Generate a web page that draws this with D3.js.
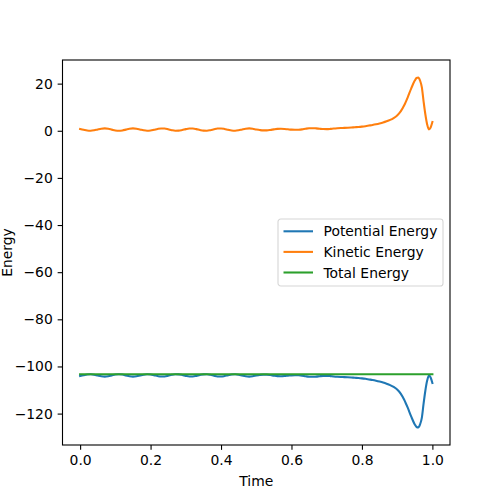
<!DOCTYPE html>
<html>
<head>
<meta charset="utf-8">
<script src="https://cdn.jsdelivr.net/npm/d3@7"></script>
<style>
  body { margin: 0; background: #fff; }
  svg { display: block; font-family: "DejaVu Sans", sans-serif; }
</style>
</head>
<body>
<div id="chart"></div>
<script>
// data
var time = [
  0.00,0.01,0.02,0.03,0.04,0.05,0.06,0.07,0.08,0.09,
  0.10,0.11,0.12,0.13,0.14,0.15,0.16,0.17,0.18,0.19,
  0.20,0.21,0.22,0.23,0.24,0.25,0.26,0.27,0.28,0.29,
  0.30,0.31,0.32,0.33,0.34,0.35,0.36,0.37,0.38,0.39,
  0.40,0.41,0.42,0.43,0.44,0.45,0.46,0.47,0.48,0.49,
  0.50,0.51,0.52,0.53,0.54,0.55,0.56,0.57,0.58,0.59,
  0.60,0.61,0.62,0.63,0.64,0.65,0.66,0.67,0.68,0.69,
  0.70,0.71,0.72,0.73,0.74,0.75,0.76,0.77,0.78,0.79,
  0.80,0.81,0.82,0.83,0.84,0.85,0.86,0.87,0.88,0.89,
  0.90,0.91,0.92,0.93,0.94,0.95,
  0.955,0.96,0.965,0.97,0.975,0.98,0.985,0.99,0.995,1.00
];

var kinetic = [
  0.77,0.41,0.09,0.01,0.20,0.56,0.88,1.00,0.83,0.48,
  0.14,0.00,0.15,0.48,0.83,1.00,0.89,0.56,0.20,0.01,
  0.09,0.41,0.77,0.99,0.93,0.63,0.26,0.02,0.05,0.33,
  0.70,0.96,0.96,0.70,0.33,0.05,0.02,0.26,0.63,0.93,
  0.99,0.77,0.41,0.09,0.01,0.20,0.56,0.88,1.00,0.85,
  0.55,0.30,0.16,0.18,0.35,0.60,0.80,0.85,0.78,0.62,
  0.47,0.40,0.45,0.60,0.85,1.05,1.10,1.00,0.85,0.72,
  0.70,0.80,0.98,1.10,1.18,1.22,1.30,1.40,1.50,1.60,
  1.75,1.95,2.20,2.45,2.75,3.10,3.50,4.00,4.60,5.40,
  6.50,8.20,10.8,14.2,18.0,21.3,
  22.4,22.6,21.3,18.5,12.5,7.0,2.8,0.6,1.4,3.7
];

var potential = [
  -104.07,-103.71,-103.39,-103.31,-103.50,-103.86,-104.18,-104.30,-104.13,-103.78,
  -103.44,-103.30,-103.45,-103.78,-104.13,-104.30,-104.19,-103.86,-103.50,-103.31,
  -103.39,-103.71,-104.07,-104.29,-104.23,-103.93,-103.56,-103.32,-103.35,-103.63,
  -104.00,-104.26,-104.26,-104.00,-103.63,-103.35,-103.32,-103.56,-103.93,-104.23,
  -104.29,-104.07,-103.71,-103.39,-103.31,-103.50,-103.86,-104.18,-104.30,-104.15,
  -103.85,-103.60,-103.46,-103.48,-103.65,-103.90,-104.10,-104.15,-104.08,-103.92,
  -103.77,-103.70,-103.75,-103.90,-104.15,-104.35,-104.40,-104.30,-104.15,-104.02,
  -104.00,-104.10,-104.28,-104.40,-104.48,-104.52,-104.60,-104.70,-104.80,-104.90,
  -105.05,-105.25,-105.50,-105.75,-106.05,-106.40,-106.80,-107.30,-107.90,-108.70,
  -109.80,-111.50,-114.10,-117.50,-121.30,-124.60,
  -125.70,-125.90,-124.60,-121.80,-115.80,-110.30,-106.10,-103.90,-104.70,-107.00
];

var total = [
  -103.3,-103.3,-103.3,-103.3,-103.3,-103.3,-103.3,-103.3,-103.3,-103.3,
  -103.3,-103.3,-103.3,-103.3,-103.3,-103.3,-103.3,-103.3,-103.3,-103.3,
  -103.3,-103.3,-103.3,-103.3,-103.3,-103.3,-103.3,-103.3,-103.3,-103.3,
  -103.3,-103.3,-103.3,-103.3,-103.3,-103.3,-103.3,-103.3,-103.3,-103.3,
  -103.3,-103.3,-103.3,-103.3,-103.3,-103.3,-103.3,-103.3,-103.3,-103.3,
  -103.3,-103.3,-103.3,-103.3,-103.3,-103.3,-103.3,-103.3,-103.3,-103.3,
  -103.3,-103.3,-103.3,-103.3,-103.3,-103.3,-103.3,-103.3,-103.3,-103.3,
  -103.3,-103.3,-103.3,-103.3,-103.3,-103.3,-103.3,-103.3,-103.3,-103.3,
  -103.3,-103.3,-103.3,-103.3,-103.3,-103.3,-103.3,-103.3,-103.3,-103.3,
  -103.3,-103.3,-103.3,-103.3,-103.3,-103.3,
  -103.3,-103.3,-103.3,-103.3,-103.3,-103.3,-103.3,-103.3,-103.3,-103.3
];

var seriesNames = ["Potential Energy", "Kinetic Energy", "Total Energy"];
var seriesColors = ["#1f77b4", "#ff7f0e", "#2ca02c"];
var xTicks = [0.0, 0.2, 0.4, 0.6, 0.8, 1.0];
var yTicks = [-120, -100, -80, -60, -40, -20, 0, 20];

var series = [potential, kinetic, total];

// figure layout, like matplotlib's default subplot
var W = 500, H = 500;
var margin = {top: 60, right: 50, bottom: 55, left: 62.5};
var fontSize = 13.9;
var tickLen = 4.86;

var svg = d3.select("#chart").append("svg")
  .attr("width", W)
  .attr("height", H);

// scales with 5% padding like autoscale
var xExt = d3.extent(time);
var xPad = (xExt[1] - xExt[0]) * 0.05;
var allY = [].concat(potential, kinetic, total);
var yExt = d3.extent(allY);
var yPad = (yExt[1] - yExt[0]) * 0.05;

var x = d3.scaleLinear()
  .domain([xExt[0] - xPad, xExt[1] + xPad])
  .range([margin.left, W - margin.right]);
var y = d3.scaleLinear()
  .domain([yExt[0] - yPad, yExt[1] + yPad])
  .range([H - margin.bottom, margin.top]);

// lines
var line = d3.line()
  .x(function(d) { return x(d[0]); })
  .y(function(d) { return y(d[1]); })
  .curve(d3.curveMonotoneX);

series.forEach(function(vals, i) {
  var pts = time.map(function(t, j) { return [t, vals[j]]; });
  svg.append("path")
    .datum(pts)
    .attr("fill", "none")
    .attr("stroke", seriesColors[i])
    .attr("stroke-width", 2.08)
    .attr("stroke-linejoin", "round")
    .attr("stroke-linecap", "square")
    .attr("d", line);
});

// axes frame
svg.append("rect")
  .attr("x", margin.left)
  .attr("y", margin.top)
  .attr("width", W - margin.left - margin.right)
  .attr("height", H - margin.top - margin.bottom)
  .attr("fill", "none")
  .attr("stroke", "#000")
  .attr("stroke-width", 1.1);

// x axis
var xAxis = svg.append("g")
  .attr("transform", "translate(0," + (H - margin.bottom) + ")")
  .call(d3.axisBottom(x)
    .tickValues(xTicks)
    .tickFormat(d3.format(".1f"))
    .tickSize(tickLen)
    .tickPadding(tickLen));
xAxis.select(".domain").remove();
xAxis.selectAll("line").attr("stroke-width", 1.1);
xAxis.selectAll("text")
  .attr("font-size", fontSize)
  .attr("font-family", "DejaVu Sans")
  .attr("fill", "#000");

// y axis
var yAxis = svg.append("g")
  .attr("transform", "translate(" + margin.left + ",0)")
  .call(d3.axisLeft(y)
    .tickValues(yTicks)
    .tickFormat(d3.format("d"))
    .tickSize(tickLen)
    .tickPadding(tickLen));
yAxis.select(".domain").remove();
yAxis.selectAll("line").attr("stroke-width", 1.1);
yAxis.selectAll("text")
  .attr("font-size", fontSize)
  .attr("font-family", "DejaVu Sans")
  .attr("fill", "#000");

// axis labels
svg.append("text")
  .attr("x", (margin.left + W - margin.right) / 2)
  .attr("y", 485.5)
  .attr("text-anchor", "middle")
  .attr("font-size", fontSize)
  .text("Time");

// pushed a little right so the whole word stays on the page
svg.append("text")
  .attr("transform", "translate(12," + ((margin.top + H - margin.bottom) / 2) + ") rotate(-90)")
  .attr("text-anchor", "middle")
  .attr("font-size", fontSize)
  .text("Energy");

// legend
var legend = svg.append("g")
  .attr("transform", "translate(278,219)");
legend.append("rect")
  .attr("width", 165)
  .attr("height", 67)
  .attr("rx", 2.8)
  .attr("fill", "#fff")
  .attr("fill-opacity", 0.8)
  .attr("stroke", "#d6d6d6")
  .attr("stroke-width", 1.1);

seriesNames.forEach(function(name, i) {
  var ly = 12.3 + i * 20.6;
  legend.append("line")
    .attr("x1", 5.5)
    .attr("x2", 35)
    .attr("y1", ly)
    .attr("y2", ly)
    .attr("stroke", seriesColors[i])
    .attr("stroke-width", 2.08);
  legend.append("text")
    .attr("x", 45.5)
    .attr("y", ly)
    .attr("dy", "0.36em")
    .attr("font-size", fontSize)
    .text(name);
});
</script>
</body>
</html>
